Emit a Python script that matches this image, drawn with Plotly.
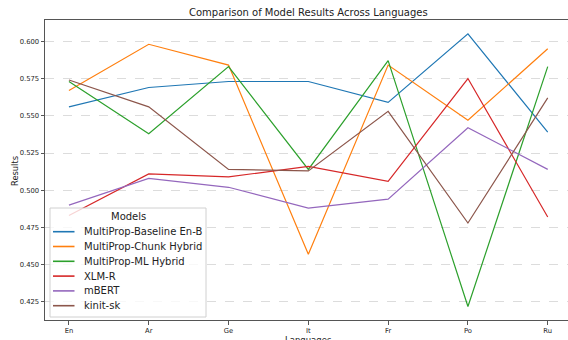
import plotly.graph_objects as go

languages = ["En", "Ar", "Ge", "It", "Fr", "Po", "Ru"]

baseline_en_b = [0.556, 0.569, 0.573, 0.573, 0.559, 0.605, 0.539]
chunk_hybrid = [0.567, 0.598, 0.584, 0.457, 0.584, 0.547, 0.595]
ml_hybrid = [0.573, 0.538, 0.583, 0.514, 0.587, 0.422, 0.583]
xlm_r = [0.483, 0.511, 0.509, 0.516, 0.506, 0.575, 0.482]
mbert = [0.490, 0.508, 0.502, 0.488, 0.494, 0.542, 0.514]
kinit_sk = [0.574, 0.556, 0.514, 0.513, 0.553, 0.478, 0.562]

series = [
    ("MultiProp-Baseline En-B", baseline_en_b, "#1f77b4"),
    ("MultiProp-Chunk Hybrid", chunk_hybrid, "#ff7f0e"),
    ("MultiProp-ML Hybrid", ml_hybrid, "#2ca02c"),
    ("XLM-R", xlm_r, "#d62728"),
    ("mBERT", mbert, "#9467bd"),
    ("kinit-sk", kinit_sk, "#8c564b"),
]

W, H = 568, 340
ML, MR, MT, MB = 45, 0, 20, 20
PW, PH = W - ML - MR, H - MT - MB


def px(x):
    """Pixel column -> paper x."""
    return (x - ML) / PW


def py(y):
    """Pixel row -> paper y."""
    return (H - MB - y) / PH


fig = go.Figure()
for name, values, color in series:
    fig.add_trace(go.Scatter(
        x=languages, y=values, name=name, mode="lines",
        line=dict(color=color, width=1.2), showlegend=False,
    ))

font = "DejaVu Sans"
ink = "#222"

# Legend panel drawn on top of the lines (semi-transparent, like a framed legend)
shapes = [dict(
    type="rect", xref="paper", yref="paper", layer="above",
    x0=px(50), x1=px(206), y0=py(317), y1=py(208),
    fillcolor="rgba(255,255,255,0.8)", line=dict(color="#d0d0d0", width=1),
)]
annotations = [dict(
    text="Models", xref="paper", yref="paper", x=px(128), y=py(216.5),
    xanchor="center", yanchor="middle", showarrow=False,
    font=dict(size=10, family=font, color=ink),
)]
row0, row_gap = 231.7, 14.8
for i, (name, _, color) in enumerate(series):
    yy = row0 + i * row_gap
    shapes.append(dict(
        type="line", xref="paper", yref="paper", layer="above",
        x0=px(53), x1=px(74.5), y0=py(yy), y1=py(yy),
        line=dict(color=color, width=1.6),
    ))
    annotations.append(dict(
        text=name, xref="paper", yref="paper", x=px(82), y=py(yy),
        xanchor="left", yanchor="middle", showarrow=False,
        font=dict(size=10, family=font, color=ink),
    ))

# Title and axis titles
annotations += [
    dict(text="Comparison of Model Results Across Languages", xref="paper", yref="paper",
         x=px(308), y=py(13), xanchor="center", yanchor="middle", showarrow=False,
         font=dict(size=10, family=font, color=ink)),
    dict(text="Results", xref="paper", yref="paper", x=px(15), y=py(171),
         xanchor="center", yanchor="middle", textangle=-90, showarrow=False,
         font=dict(size=8.3, family=font, color=ink)),
    dict(text="Languages", xref="paper", yref="paper", x=px(308), y=py(333),
         xanchor="center", yanchor="top", showarrow=False,
         font=dict(size=8.5, family=font, color=ink)),
]

fig.update_layout(
    width=W, height=H,
    margin=dict(l=ML, r=MR, t=MT, b=MB),
    paper_bgcolor="white", plot_bgcolor="white",
    font=dict(family=font, color=ink),
    showlegend=False,
    shapes=shapes,
    annotations=annotations,
)

fig.update_xaxes(
    type="category", range=[-0.3, 6.254],
    showline=True, linecolor="#555", linewidth=1, mirror=True,
    ticks="outside", ticklen=3.5, tickcolor="#555",
    tickfont=dict(size=6.8, family=font, color=ink),
    showgrid=False, zeroline=False, automargin=False,
)
fig.update_yaxes(
    range=[0.4129, 0.6143],
    tickvals=[0.425, 0.45, 0.475, 0.5, 0.525, 0.55, 0.575, 0.6],
    ticktext=["0.425", "0.450", "0.475", "0.500", "0.525", "0.550", "0.575", "0.600"],
    showline=True, linecolor="#555", linewidth=1, mirror=True,
    ticks="outside", ticklen=3.5, tickcolor="#555",
    tickfont=dict(size=6.8, family=font, color=ink),
    showgrid=True, gridcolor="#dcdcdc", griddash="dash", gridwidth=0.8,
    zeroline=False, automargin=False,
)

fig.write_html("out.html")
